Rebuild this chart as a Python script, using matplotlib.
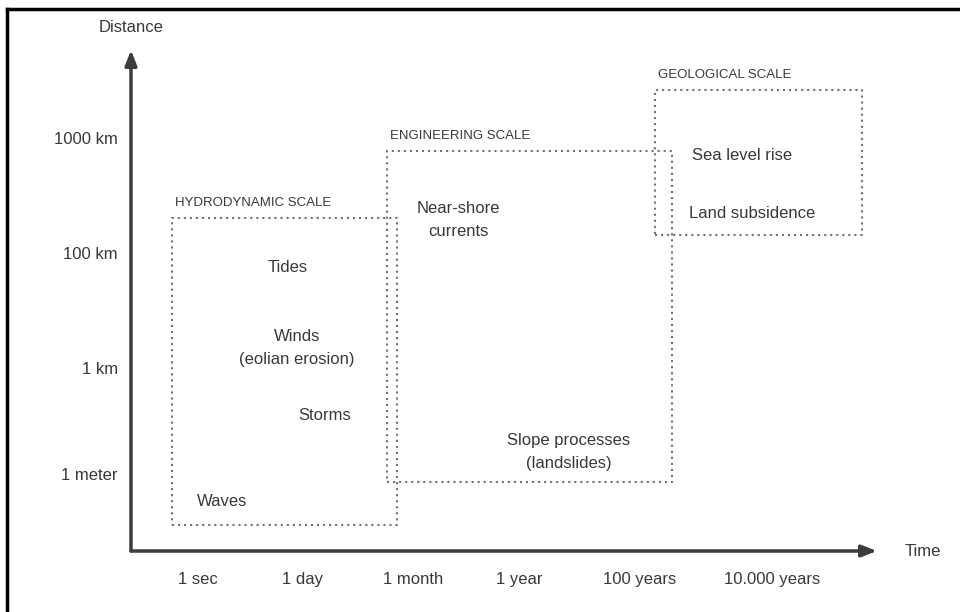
import matplotlib
matplotlib.use('Agg')
import matplotlib.pyplot as plt
from matplotlib.lines import Line2D

plt.rcParams['font.family'] = ['Liberation Sans', 'DejaVu Sans']

# axis ticks (positions in diagram units along each axis)
time_labels = ['1 sec', '1 day', '1 month', '1 year', '100 years', '10.000 years']
time_pos = [0.67, 1.71, 2.82, 3.88, 5.09, 6.41]
dist_labels = ['1 meter', '1 km', '100 km', '1000 km']
dist_pos = [0.77, 1.83, 2.98, 4.13]

# scale boxes
scale_names = ['HYDRODYNAMIC SCALE', 'ENGINEERING SCALE', 'GEOLOGICAL SCALE']
scale_x0 = [0.41, 2.56, 5.24]
scale_x1 = [2.66, 5.41, 7.31]
scale_y0 = [0.26, 0.69, 3.16]
scale_y1 = [3.33, 4.00, 4.61]

# processes
proc_text = ['Tides', 'Winds\n(eolian erosion)', 'Storms', 'Waves',
             'Near-shore\ncurrents', 'Slope processes\n(landslides)',
             'Sea level rise', 'Land subsidence']
proc_x = [1.57, 1.66, 1.94, 0.91, 3.27, 4.38, 6.11, 6.21]
proc_y = [2.84, 2.03, 1.35, 0.50, 3.31, 0.99, 3.96, 3.38]

txt_col = '#383838'
ax_col = '#3c3c3c'
fs = 12

fig = plt.figure(figsize=(9.6, 6.12), dpi=100)
W, H = 960, 612
ax = fig.add_axes([131 / W, (H - 551) / H, (877 - 131) / W, (551 - 50) / H])
ax.set_xlim(0, 7.46)
ax.set_ylim(0, 5.01)
for s in ax.spines.values():
    s.set_visible(False)

# axes with arrows
ax.annotate('', xy=(1, 0), xytext=(0, 0), xycoords='axes fraction',
            arrowprops=dict(arrowstyle='-|>,head_length=0.9,head_width=0.35',
                            color=ax_col, lw=2.5, shrinkA=0, shrinkB=0))
ax.annotate('', xy=(0, 1), xytext=(0, 0), xycoords='axes fraction',
            arrowprops=dict(arrowstyle='-|>,head_length=0.9,head_width=0.35',
                            color=ax_col, lw=2.5, shrinkA=0, shrinkB=0))

ax.set_xticks(time_pos, time_labels)
ax.set_yticks(dist_pos, dist_labels)
ax.tick_params(length=0, labelsize=fs, labelcolor=txt_col)
ax.tick_params(axis='x', pad=15)
ax.tick_params(axis='y', pad=9.5)

ax.text(0, 1.044, 'Distance', transform=ax.transAxes, ha='center', va='center',
        fontsize=fs, color=txt_col)
ax.text(1.037, 0, 'Time', transform=ax.transAxes, ha='left', va='center',
        fontsize=fs, color=txt_col)

# dotted boxes
for name, x0, x1, y0, y1 in zip(scale_names, scale_x0, scale_x1, scale_y0, scale_y1):
    ax.plot([x0, x1, x1, x0, x0], [y0, y0, y1, y1, y0], color='#707070',
            lw=1.5, linestyle=(0, (1, 1.9)), clip_on=False)
    ax.text(x0 + 0.03, y1 + 0.09, name, ha='left', va='bottom',
            fontsize=9.5, color=txt_col)

for t, x, y in zip(proc_text, proc_x, proc_y):
    ax.text(x, y, t, ha='center', va='center', fontsize=fs, color=txt_col,
            linespacing=1.65)

# frame lines (top and left)
fig.add_artist(Line2D([7 / W, 1], [1 - 9 / H, 1 - 9 / H], color='black', lw=2.5,
                      transform=fig.transFigure))
fig.add_artist(Line2D([7 / W, 7 / W], [0, 1 - 9 / H], color='black', lw=2.5,
                      transform=fig.transFigure))

fig.savefig('out.png', dpi=100)
